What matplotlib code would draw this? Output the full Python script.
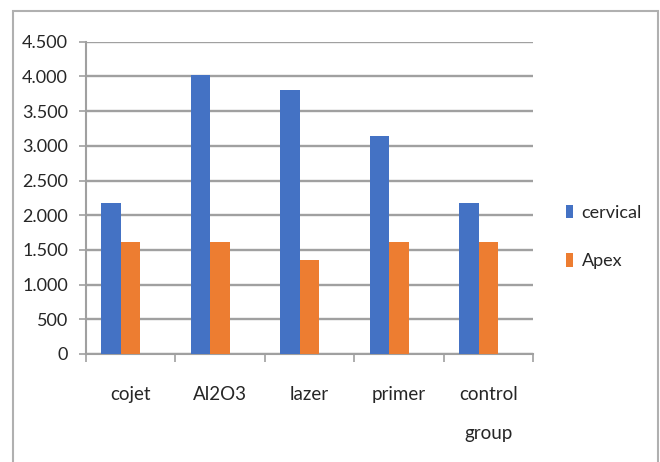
import matplotlib.pyplot as plt
import matplotlib.ticker as mticker
from matplotlib.patches import Rectangle
import numpy as np

plt.rcParams['font.family'] = ['Lato', 'DejaVu Sans']

groups = ["cojet", "Al2O3", "lazer", "primer", "control\ngroup"]
cervical = [2170, 4015, 3800, 3140, 2170]
apex = [1610, 1610, 1360, 1610, 1610]

blue = "#4472c4"
orange = "#ed7d31"
grid_c = "#a0a0a0"
txt_c = "#262626"

fig = plt.figure(figsize=(6.6, 4.62), dpi=100)
ax = fig.add_axes([86 / 660, 1 - 354 / 462, (533 - 86) / 660, (354 - 41.7) / 462])

x = np.arange(len(groups))
w = 0.218
ax.bar(x - w, cervical, w, color=blue, label="cervical", zorder=3)
ax.bar(x, apex, w, color=orange, label="Apex", zorder=3)

ax.set_xlim(-0.5, len(groups) - 0.5)
ax.set_ylim(0, 4500)
ax.yaxis.set_major_locator(mticker.MultipleLocator(500))
ax.yaxis.set_major_formatter(mticker.FuncFormatter(lambda v, p: f"{int(v):,}".replace(",", ".")))
ax.grid(axis="y", color=grid_c, lw=1.7, zorder=0)

# category boundaries get the tick marks, names sit in the middle
ax.set_xticks(np.arange(-0.5, len(groups)), [])
ax.set_xticks(x, groups, minor=True)
ax.tick_params(axis="x", which="major", length=6, width=1.2, color=grid_c, direction="out")
ax.tick_params(axis="x", which="minor", length=0, pad=23, labelsize=13.5, labelcolor=txt_c)
for lab in ax.get_xticklabels(minor=True):
    lab.set_linespacing(2.6)
ax.tick_params(axis="y", length=5, width=1.2, color=grid_c, pad=8, labelsize=13, labelcolor=txt_c)

for s in ["top", "right"]:
    ax.spines[s].set_visible(False)
for s in ["left", "bottom"]:
    ax.spines[s].set_color(grid_c)
    ax.spines[s].set_linewidth(1.5)

ax.legend(loc="center left", bbox_to_anchor=(550 / 660, 1 - 237 / 462), bbox_transform=fig.transFigure,
          frameon=False, fontsize=13, labelcolor=txt_c, handlelength=0.35, handleheight=0.75,
          handletextpad=0.5, labelspacing=1.8)

# chart area outline
fig.patches.append(Rectangle((13 / 660, -0.05), (658 - 13) / 660, 1.05 - 11 / 462,
                             transform=fig.transFigure, fill=False, ec="#b0b0b0", lw=1.5))

fig.savefig("out.png", dpi=100)
